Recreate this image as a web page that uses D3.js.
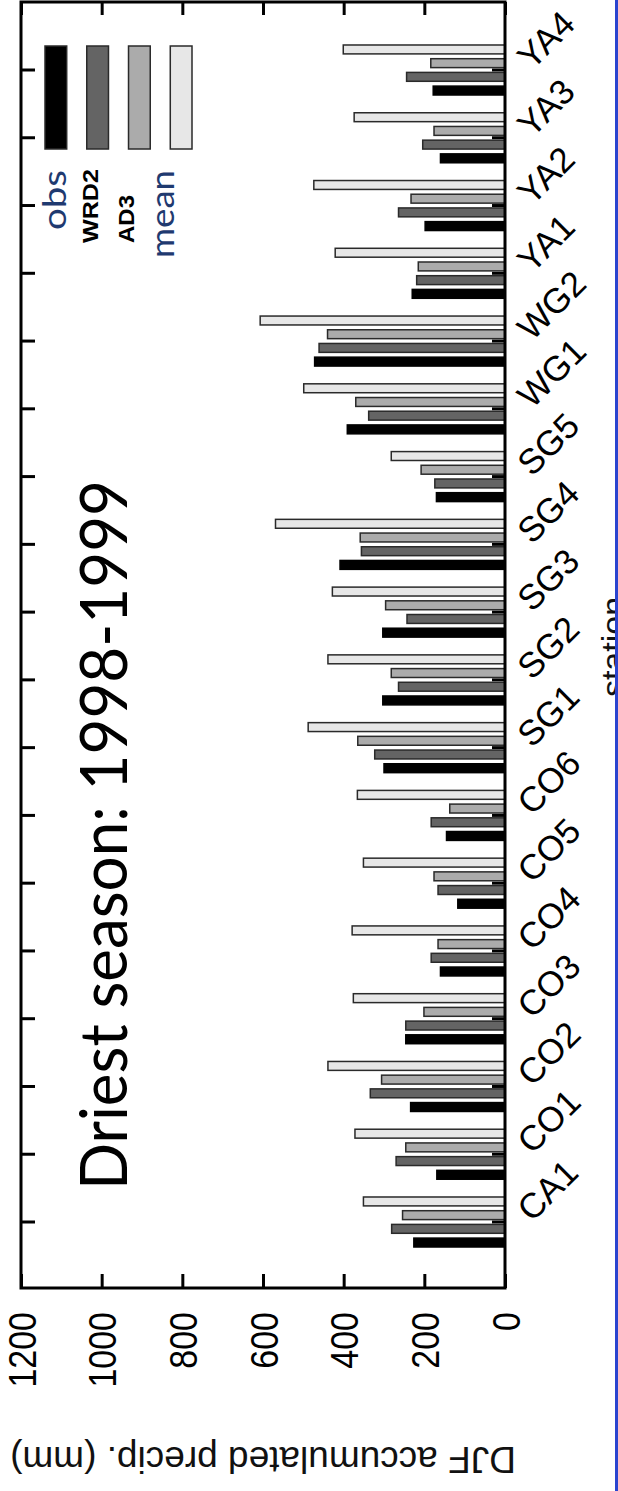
<!DOCTYPE html>
<html>
<head>
<meta charset="utf-8">
<script src="https://cdn.jsdelivr.net/npm/d3@7"></script>
<style>
  body { margin: 0; background: #fff; }
  svg { display: block; }
</style>
</head>
<body>
<svg id="chart" width="618" height="1491"></svg>
<script>
// stations, bottom to top of the (rotated) chart
const stations = ['CA1','CO1','CO2','CO3','CO4','CO5','CO6','SG1','SG2','SG3','SG4','SG5','WG1','WG2','YA1','YA2','YA3','YA4'];
const seriesNames = ['obs','WRD2','AD3','mean'];

// DJF accumulated precip (mm)
const obs  = [226,169,234,246,160,117,145,300,303,303,409,170,391,472,230,198,160,178];
const wrd2 = [281,270,334,246,183,166,183,323,264,243,356,174,338,461,219,264,204,244];
const ad3  = [254,246,306,201,166,176,137,365,282,296,359,208,370,440,215,233,176,184];
const mean = [351,372,439,376,379,351,366,488,439,428,569,282,499,607,421,474,374,401];

const valueTicks = [0,200,400,600,800,1000,1200];

const seriesValues = {obs: obs, WRD2: wrd2, AD3: ad3, mean: mean};
const fill = {obs:'#000', WRD2:'#646464', AD3:'#ababab', mean:'#e7e7e7'};

const frame = {left:21, right:505, top:2, bottom:1288};
const svg = d3.select('#chart');

// value axis runs right (0) to left (1200)
const x = d3.scaleLinear().domain([0,1200]).range([frame.right, frame.left]);

// station axis : CA1 at the bottom, YA4 at the top
const step = (1222 - 70) / 17;
const y = d3.scaleBand()
    .domain(stations)
    .range([1222 + step/2, 70 - step/2])
    .paddingInner(0.262)
    .paddingOuter(0.131);
const ySub = d3.scaleBand()
    .domain(seriesNames)
    .range([y.bandwidth(), 0])
    .paddingInner(0.35);

const styleTicks = g => {
    g.select('.domain').remove();
    g.selectAll('.tick line').attr('stroke','#000').attr('stroke-width',3);
};

// top & left axes : ticks only
svg.append('g')
    .attr('transform',`translate(0,${frame.top})`)
    .call(d3.axisTop(x).tickValues(valueTicks).tickSizeInner(-13).tickSizeOuter(0).tickFormat(''))
    .call(styleTicks);
svg.append('g')
    .attr('transform',`translate(${frame.left},0)`)
    .call(d3.axisLeft(y).tickSizeInner(-14).tickSizeOuter(0).tickFormat(''))
    .call(styleTicks);

// right axis (station labels) - ticks drawn under the bars
const rightAxis = svg.append('g')
    .attr('transform',`translate(${frame.right},0)`)
    .call(d3.axisRight(y).tickSizeInner(-13).tickSizeOuter(0))
    .call(styleTicks)
    .attr('font-family','"Liberation Sans", Arial, sans-serif')
    .attr('font-size',35);
rightAxis.selectAll('.tick text')
    .attr('x',0).attr('y',0).attr('dy',0)
    .attr('text-anchor','start')
    .attr('fill','#000')
    .attr('transform','translate(27,1) rotate(-45)');

// bars
const groups = svg.append('g').selectAll('g')
    .data(stations)
    .join('g')
    .attr('transform', d => `translate(0,${y(d)})`);

groups.selectAll('rect')
    .data((d,i) => seriesNames.map(s => ({series:s, value:seriesValues[s][i]})))
    .join('rect')
    .attr('x', d => x(d.value))
    .attr('y', d => ySub(d.series))
    .attr('width', d => x(0) - x(d.value))
    .attr('height', ySub.bandwidth())
    .attr('fill', d => fill[d.series])
    .attr('stroke', d => d.series === 'obs' ? '#000' : '#2a2a2a')
    .attr('stroke-width', 1.5);

// bottom axis with rotated value labels
const bottomAxis = svg.append('g')
    .attr('transform',`translate(0,${frame.bottom})`)
    .call(d3.axisBottom(x).tickValues(valueTicks).tickSizeInner(-14).tickSizeOuter(0).tickFormat(d3.format('d')))
    .call(styleTicks)
    .attr('font-family','"Liberation Sans", Arial, sans-serif')
    .attr('font-size',34);
bottomAxis.selectAll('.tick text')
    .attr('x',0).attr('y',0)
    .attr('dy','0.36em')
    .attr('text-anchor','end')
    .attr('fill','#000')
    .attr('transform','translate(0,24) scale(1.15,1) rotate(-90)');

// frame
svg.append('rect')
    .attr('x',frame.left).attr('y',frame.top)
    .attr('width',frame.right-frame.left).attr('height',frame.bottom-frame.top)
    .attr('fill','none').attr('stroke','#000').attr('stroke-width',3);

// value axis title (upside down, as in the rotated figure)
svg.append('text')
    .attr('transform','translate(263,1447) rotate(180)')
    .attr('text-anchor','middle')
    .attr('font-family','"Liberation Sans", Arial, sans-serif')
    .attr('font-size',37)
    .attr('fill','#111')
    .text('DJF accumulated precip. (mm)');

// station axis title, partly cut by the right border as in the figure
svg.append('text')
    .attr('transform','translate(625,647) rotate(-90)')
    .attr('text-anchor','middle')
    .attr('font-family','"Liberation Sans", Arial, sans-serif')
    .attr('font-size',34)
    .attr('fill','#111')
    .text('station');

// legend
const legendX = d3.scaleBand().domain(seriesNames).range([45, 192]).paddingInner(0.48);
svg.append('g').selectAll('rect')
    .data(seriesNames)
    .join('rect')
    .attr('x', d => legendX(d))
    .attr('y', 46)
    .attr('width', legendX.bandwidth())
    .attr('height', 103)
    .attr('fill', d => fill[d])
    .attr('stroke', '#2a2a2a')
    .attr('stroke-width', 1.5);

const legendLabels = [
    {name:'obs',  bx:66,  by:230, len:60, size:32, weight:'normal', font:'Lato, "Open Sans", sans-serif', color:'#1f3a70'},
    {name:'WRD2', bx:98,  by:243, len:74, size:22, weight:'bold',   font:'"Liberation Sans", Arial, sans-serif', color:'#000'},
    {name:'AD3',  bx:134, by:243, len:48, size:22, weight:'bold',   font:'"Liberation Sans", Arial, sans-serif', color:'#000'},
    {name:'mean', bx:174, by:258, len:88, size:33, weight:'normal', font:'Lato, "Open Sans", sans-serif', color:'#1f3a70'}
];
svg.append('g').selectAll('text')
    .data(legendLabels)
    .join('text')
    .attr('transform', d => `translate(${d.bx},${d.by}) rotate(-90)`)
    .attr('font-family', d => d.font)
    .attr('font-size', d => d.size)
    .attr('font-weight', d => d.weight)
    .attr('fill', d => d.color)
    .attr('textLength', d => d.len)
    .attr('lengthAdjust','spacingAndGlyphs')
    .text(d => d.name);

// big title
svg.append('text')
    .attr('transform','translate(127,1190) rotate(-90)')
    .attr('font-family','Lato, "Open Sans", sans-serif')
    .attr('font-size',65)
    .attr('fill','#000')
    .attr('textLength',710)
    .attr('lengthAdjust','spacingAndGlyphs')
    .text('Driest season: 1998-1999');

// blue border on the right edge
svg.append('rect')
    .attr('x',615).attr('y',0).attr('width',3).attr('height',1491)
    .attr('fill','#2a44cf');
</script>
</body>
</html>
